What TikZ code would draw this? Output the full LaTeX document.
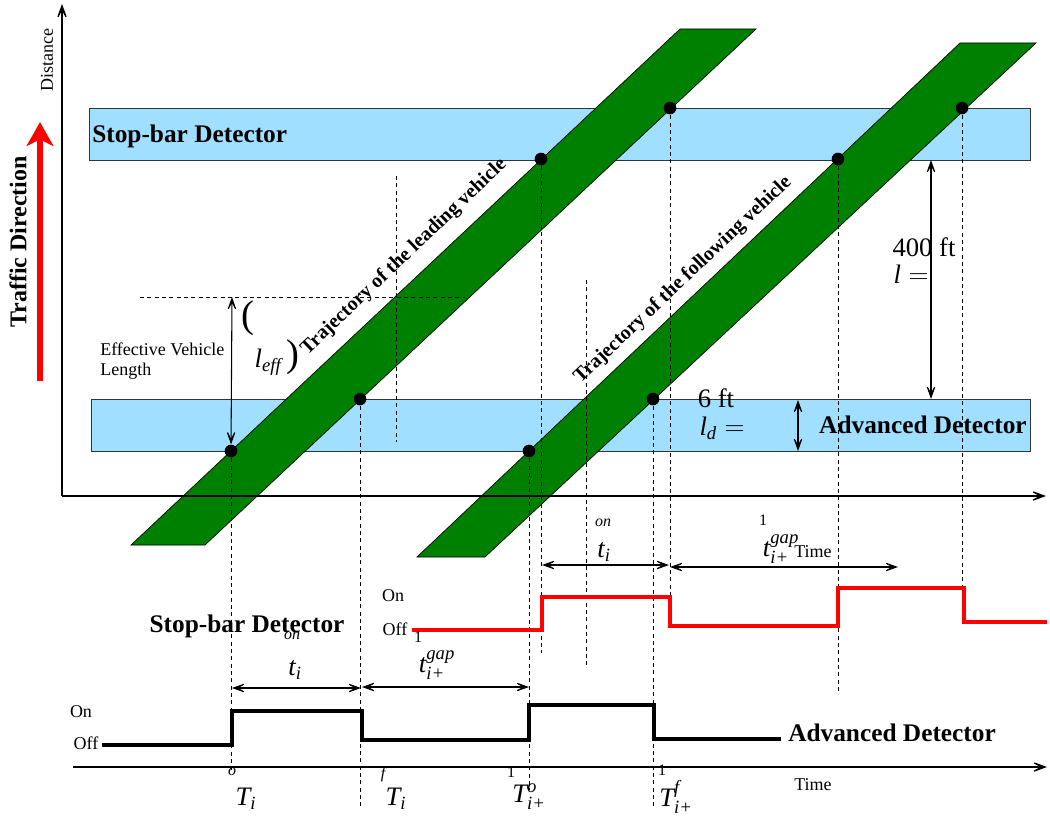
\documentclass[tikz,border=0pt]{standalone}
\usepackage{amsmath}
\usepackage{fontspec}
\setmainfont{Liberation Serif}
\usetikzlibrary{arrows.meta}
\definecolor{detblue}{RGB}{160,223,255}
\definecolor{bandgreen}{RGB}{0,128,0}
\begin{document}
\begin{tikzpicture}[x=0.75pt,y=-0.75pt,
  dashln/.style={line width=0.6pt, dash pattern=on 3pt off 2.5pt},
  axisln/.style={line width=0.9pt, -{Stealth[length=15pt,width=11pt,inset=10pt]}},
  dim/.style={line width=0.8pt, {Stealth[length=14pt,width=10pt,inset=9.5pt]}-{Stealth[length=14pt,width=10pt,inset=9.5pt]}},
  det/.style={draw=black!80, line width=0.6pt, fill=detblue},
  band/.style={draw=black, line width=0.5pt, fill=bandgreen},
  dot/.style={circle, fill=black, inner sep=0pt, minimum size=9.5pt},
  boldlbl/.style={font=\fontsize{19}{22}\selectfont\bfseries, inner sep=0pt},
  smalllbl/.style={font=\fontsize{13.5}{15}\selectfont, inner sep=0pt},
  mathlbl/.style={font=\fontsize{20}{24}\selectfont, inner sep=0pt},
  scriptlbl/.style={font=\fontsize{12}{14}\selectfont\itshape, inner sep=0pt},
  numlbl/.style={font=\fontsize{12}{14}\selectfont, inner sep=0pt},
  traj/.style={font=\fontsize{15}{18}\selectfont\bfseries, inner sep=0pt, rotate=43.5},
  sig/.style={line width=3.3pt, line join=miter},
]
\useasboundingbox (0,0) rectangle (1050,817);

% detectors
\draw[det] (89,108) rectangle (1030,160);
\draw[det] (91,399) rectangle (1030,451);
\coordinate (sbbot) at (931,160);
\coordinate (adtop) at (931,399);
\coordinate (adtop2) at (798,400);
\coordinate (adbot2) at (798,451);

% trajectories
\draw[band] (131,545) -- (205,545) -- (756,29) -- (680,29) -- cycle;
\draw[band] (417,557) -- (485,557) -- (1036,43) -- (960,43) -- cycle;

% axes
\coordinate (O) at (62,496);
\draw[axisln] (O) -- (62,4);
\draw[axisln] (O) -- (1046,496);
\draw[axisln] (73,767) -- (1047,767);

% traffic direction
\draw[red, line width=4.5pt, -{Stealth[length=18pt,width=20pt,inset=5pt]}] (40,381) -- (40,122);

% dots
\node[dot] (d1) at (231,451) {};
\node[dot] (d2) at (360,399) {};
\node[dot] (d3) at (541,159) {};
\node[dot] (d4) at (670,108) {};
\node[dot] (d5) at (529,451) {};
\node[dot] (d6) at (653,399) {};
\node[dot] (d7) at (838,159) {};
\node[dot] (d8) at (962,108) {};

% dashed projections
\draw[dashln] (d1.center) -- ++(0,319);
\draw[dashln] (d2.center) -- ++(0,408);
\draw[dashln] (d5.center) -- ++(0,339);
\draw[dashln] (d6.center) -- ++(0,408);
\draw[dashln] (d3.center) -- ++(0,494);
\draw[dashln] (d4.center) -- ++(0,492);
\draw[dashln] (d7.center) -- ++(0,535);
\draw[dashln] (d8.center) -- ++(0,484);
\draw[dashln] (396,176) -- (396,442);
\draw[dashln] (586,280) -- (586,665);
\draw[dashln] (140,297) -- (465,297);
\coordinate (efftop) at (232,297);

% dimension arrows
\draw[dim] (efftop) -- (d1);
\draw[dim] (sbbot) -- (adtop);
\draw[dim] (adtop2) -- (adbot2);
\coordinate (a1) at (542,565); \coordinate (a2) at (669,565);
\coordinate (a3) at (670,567); \coordinate (a4) at (898,567);
\draw[dim] (a1) -- (a2);
\draw[dim] (a3) -- (a4);
\coordinate (b1) at (232,688); \coordinate (b2) at (361,688);
\coordinate (b3) at (362,687); \coordinate (b4) at (529,687);
\draw[dim] (b1) -- (b2);
\draw[dim] (b3) -- (b4);

% signals
\draw[sig, red] (412,630) -- (542,630) -- (542,597) -- (670,597) -- (670,626) -- (838,626) -- (838,588) -- (964,588) -- (964,622) -- (1047,622);
\draw[sig, black] (102,745) -- (232,745) -- (232,711) -- (362,711) -- (362,740) -- (529,740) -- (529,705) -- (654,705) -- (654,739) -- (781,739);

% labels upper chart
\node[boldlbl, anchor=west] (sbl) at (92,136) {Stop-bar Detector};
\node[boldlbl, anchor=east] (adl) at (1027,425) {Advanced Detector};
\node[font=\fontsize{18}{22}\selectfont\bfseries, inner sep=0pt, rotate=90] (tdl) at (18,242) {Traffic Direction};
\node[smalllbl, rotate=90] (dist) at (47,60) {Distance};
\node[smalllbl, align=left, anchor=west] (evl) at (100,361) {Effective Vehicle\\Length};
\node[font=\fontsize{29}{29}\selectfont, inner sep=0pt] (lp) at (248,318) {(};
\node[mathlbl] (leff) at (268,362) {$\textit{l}_{\textit{eff}}$};
\node[font=\fontsize{29}{29}\selectfont, inner sep=0pt] (rp) at (293,357) {)};
\node[traj] (tl) at (404,257) {Trajectory of the leading vehicle};
\node[traj] (tf) at (683,280) {Trajectory of the following vehicle};
\node[mathlbl] (l400) at (924,247) {400 ft};
\node[mathlbl] (leq) at (911,274) {$\textit{l} =$};
\node[mathlbl] (l6) at (716,398) {6 ft};
\node[mathlbl] (ldeq) at (722,428) {$\textit{l}_{\textit{d}} =$};

% labels middle
\node[scriptlbl] (on1) at (603,523) {on};
\node[mathlbl] (ti1) at (604,552) {$\textit{t}_{\textit{i}}$};
\node[numlbl] (one1) at (763,520) {1};
\node[mathlbl] (tg1) at (781,549) {$\textit{t}^{\textit{gap}}_{\textit{i+}}$};
\node[smalllbl] (time1) at (813,552) {Time};
\node[smalllbl] (on2) at (393,596) {On};
\node[smalllbl] (off2) at (395,629) {Off};
\node[numlbl] (one2) at (418,637) {1};

% labels lower
\node[boldlbl] (sbl2) at (247,626) {Stop-bar Detector};
\node[scriptlbl] (on3) at (292,636) {on};
\node[mathlbl] (ti2) at (295,670) {$\textit{t}_{\textit{i}}$};
\node[mathlbl] (tg2) at (437,665) {$\textit{t}^{\textit{gap}}_{\textit{i+}}$};
\node[smalllbl] (on4) at (81,712) {On};
\node[smalllbl] (off4) at (86,743) {Off};
\node[boldlbl, anchor=west] (adl2) at (788,733) {Advanced Detector};
\node[smalllbl] (time2) at (813,785) {Time};
\node[scriptlbl] (o1) at (232,772) {o};
\node[mathlbl] (T1) at (246,799) {$\textit{T}_{\textit{i}}$};
\node[scriptlbl] (f1) at (383,775) {f};
\node[mathlbl] (T2) at (396,799) {$\textit{T}_{\textit{i}}$};
\node[numlbl] (one3) at (511,772) {1};
\node[mathlbl] (T3) at (529,797) {$\textit{T}^{\textit{o}}_{\textit{i+}}$};
\node[numlbl] (one4) at (662,770) {1};
\node[mathlbl] (T4) at (676,797) {$\textit{T}^{\textit{f}}_{\textit{i+}}$};
\end{tikzpicture}
\end{document}
